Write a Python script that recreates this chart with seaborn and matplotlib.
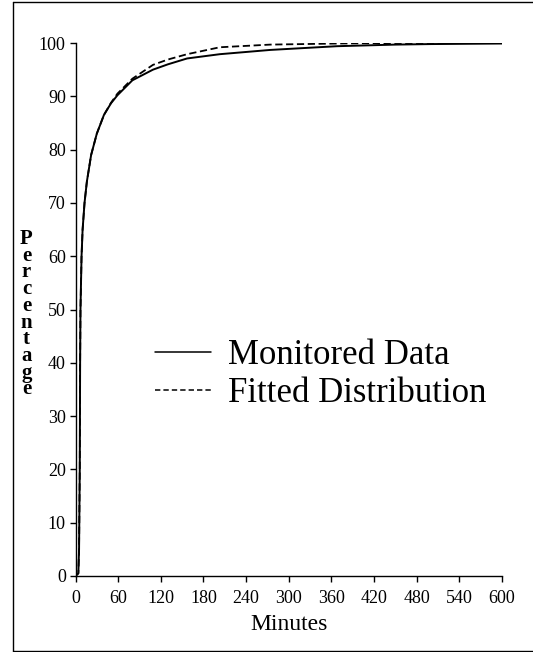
import matplotlib
matplotlib.use("Agg")
import matplotlib.pyplot as plt
from matplotlib.lines import Line2D
import seaborn as sns
import pandas as pd

# Monitored data (minutes -> cumulative percentage)
monitored_minutes = [0, 4, 5, 6, 6.5, 7, 8.5, 10, 12.7, 16, 22, 30, 40, 50, 59, 80,
                     109, 130, 157, 203, 274, 368, 450, 500, 600]
monitored_pct = [0, 0.5, 5, 20, 40, 50, 60, 65, 70, 74, 79, 83, 86.5, 88.7, 90.2, 93.0,
                 95.0, 96.0, 97.1, 97.9, 98.7, 99.4, 99.7, 99.8, 99.9]

# Fitted distribution
fitted_minutes = [0, 4, 5, 6, 6.5, 7, 8.5, 10, 12.7, 16, 22, 30, 40, 50, 59, 80,
                  109, 130, 157, 203, 274, 368, 450, 600]
fitted_pct = [0, 0.5, 5, 20, 40, 50, 60, 65, 70, 74, 79, 83, 86.5, 88.8, 90.5, 93.3,
              95.9, 96.9, 97.9, 99.2, 99.7, 99.9, 100, 100]

x_ticks = [0, 60, 120, 180, 240, 300, 360, 420, 480, 540, 600]
y_ticks = [0, 10, 20, 30, 40, 50, 60, 70, 80, 90, 100]

sns.set_style("ticks")
plt.rcParams["font.family"] = ["Liberation Serif", "DejaVu Serif"]
plt.rcParams["text.color"] = "black"
plt.rcParams["axes.labelcolor"] = "black"

fig = plt.figure(figsize=(5.33, 6.52), dpi=100)
ax = fig.add_axes([75.5 / 533, 76 / 652, (502 - 75.5) / 533, (576 - 43) / 652])

df_m = pd.DataFrame({"Minutes": monitored_minutes, "Percentage": monitored_pct})
df_f = pd.DataFrame({"Minutes": fitted_minutes, "Percentage": fitted_pct})

sns.lineplot(data=df_m, x="Minutes", y="Percentage", ax=ax, color="black",
             linewidth=1.4, label="Monitored Data", sort=True)
sns.lineplot(data=df_f, x="Minutes", y="Percentage", ax=ax, color="black",
             linewidth=1.3, dashes=False, label="Fitted Distribution", sort=True)
ax.lines[1].set_linestyle((0, (4, 2)))

ax.set_xlim(0, 600)
ax.set_ylim(0, 100)
ax.set_xticks(x_ticks)
ax.set_yticks(y_ticks)
ax.set_xticklabels([str(v) for v in x_ticks])
ax.set_yticklabels([str(v) for v in y_ticks])
ax.tick_params(axis="both", labelsize=13, length=4, width=1.0, direction="out",
               colors="black")
ax.tick_params(axis="x", pad=6)
ax.tick_params(axis="y", pad=3)
for s in ["top", "right"]:
    ax.spines[s].set_visible(False)
for s in ["left", "bottom"]:
    ax.spines[s].set_linewidth(1.0)
    ax.spines[s].set_color("black")

ax.set_xlabel("Minutes", fontsize=17, labelpad=5)
ax.set_ylabel("")

# Stacked vertical y-axis label
fig.text(26.5 / 533, 1 - 229 / 652, "\n".join("Percentage"), ha="center", va="top",
         fontsize=15, fontweight="bold", linespacing=0.78, multialignment="center")

leg = ax.legend(loc="upper left", bbox_to_anchor=(155 / 533, 1 - 339 / 652),
                bbox_transform=fig.transFigure, frameon=False, fontsize=25,
                handlelength=1.6, handletextpad=0.5, labelspacing=0.15,
                borderpad=0, borderaxespad=0)
for t in leg.get_texts():
    t.set_color("black")
for h in leg.get_lines():
    h.set_linewidth(1.1)
leg.get_lines()[1].set_linestyle((0, (3.5, 2)))

# Outer frame
for (xs, ys) in [([13 / 533, 13 / 533], [1 / 652, 1 - 2 / 652]),
                 ([13 / 533, 1.0], [1 - 2 / 652, 1 - 2 / 652]),
                 ([13 / 533, 1.0], [1 / 652, 1 / 652])]:
    fig.add_artist(Line2D(xs, ys, transform=fig.transFigure, color="black", lw=1.0))

fig.savefig("out.png", dpi=100)
